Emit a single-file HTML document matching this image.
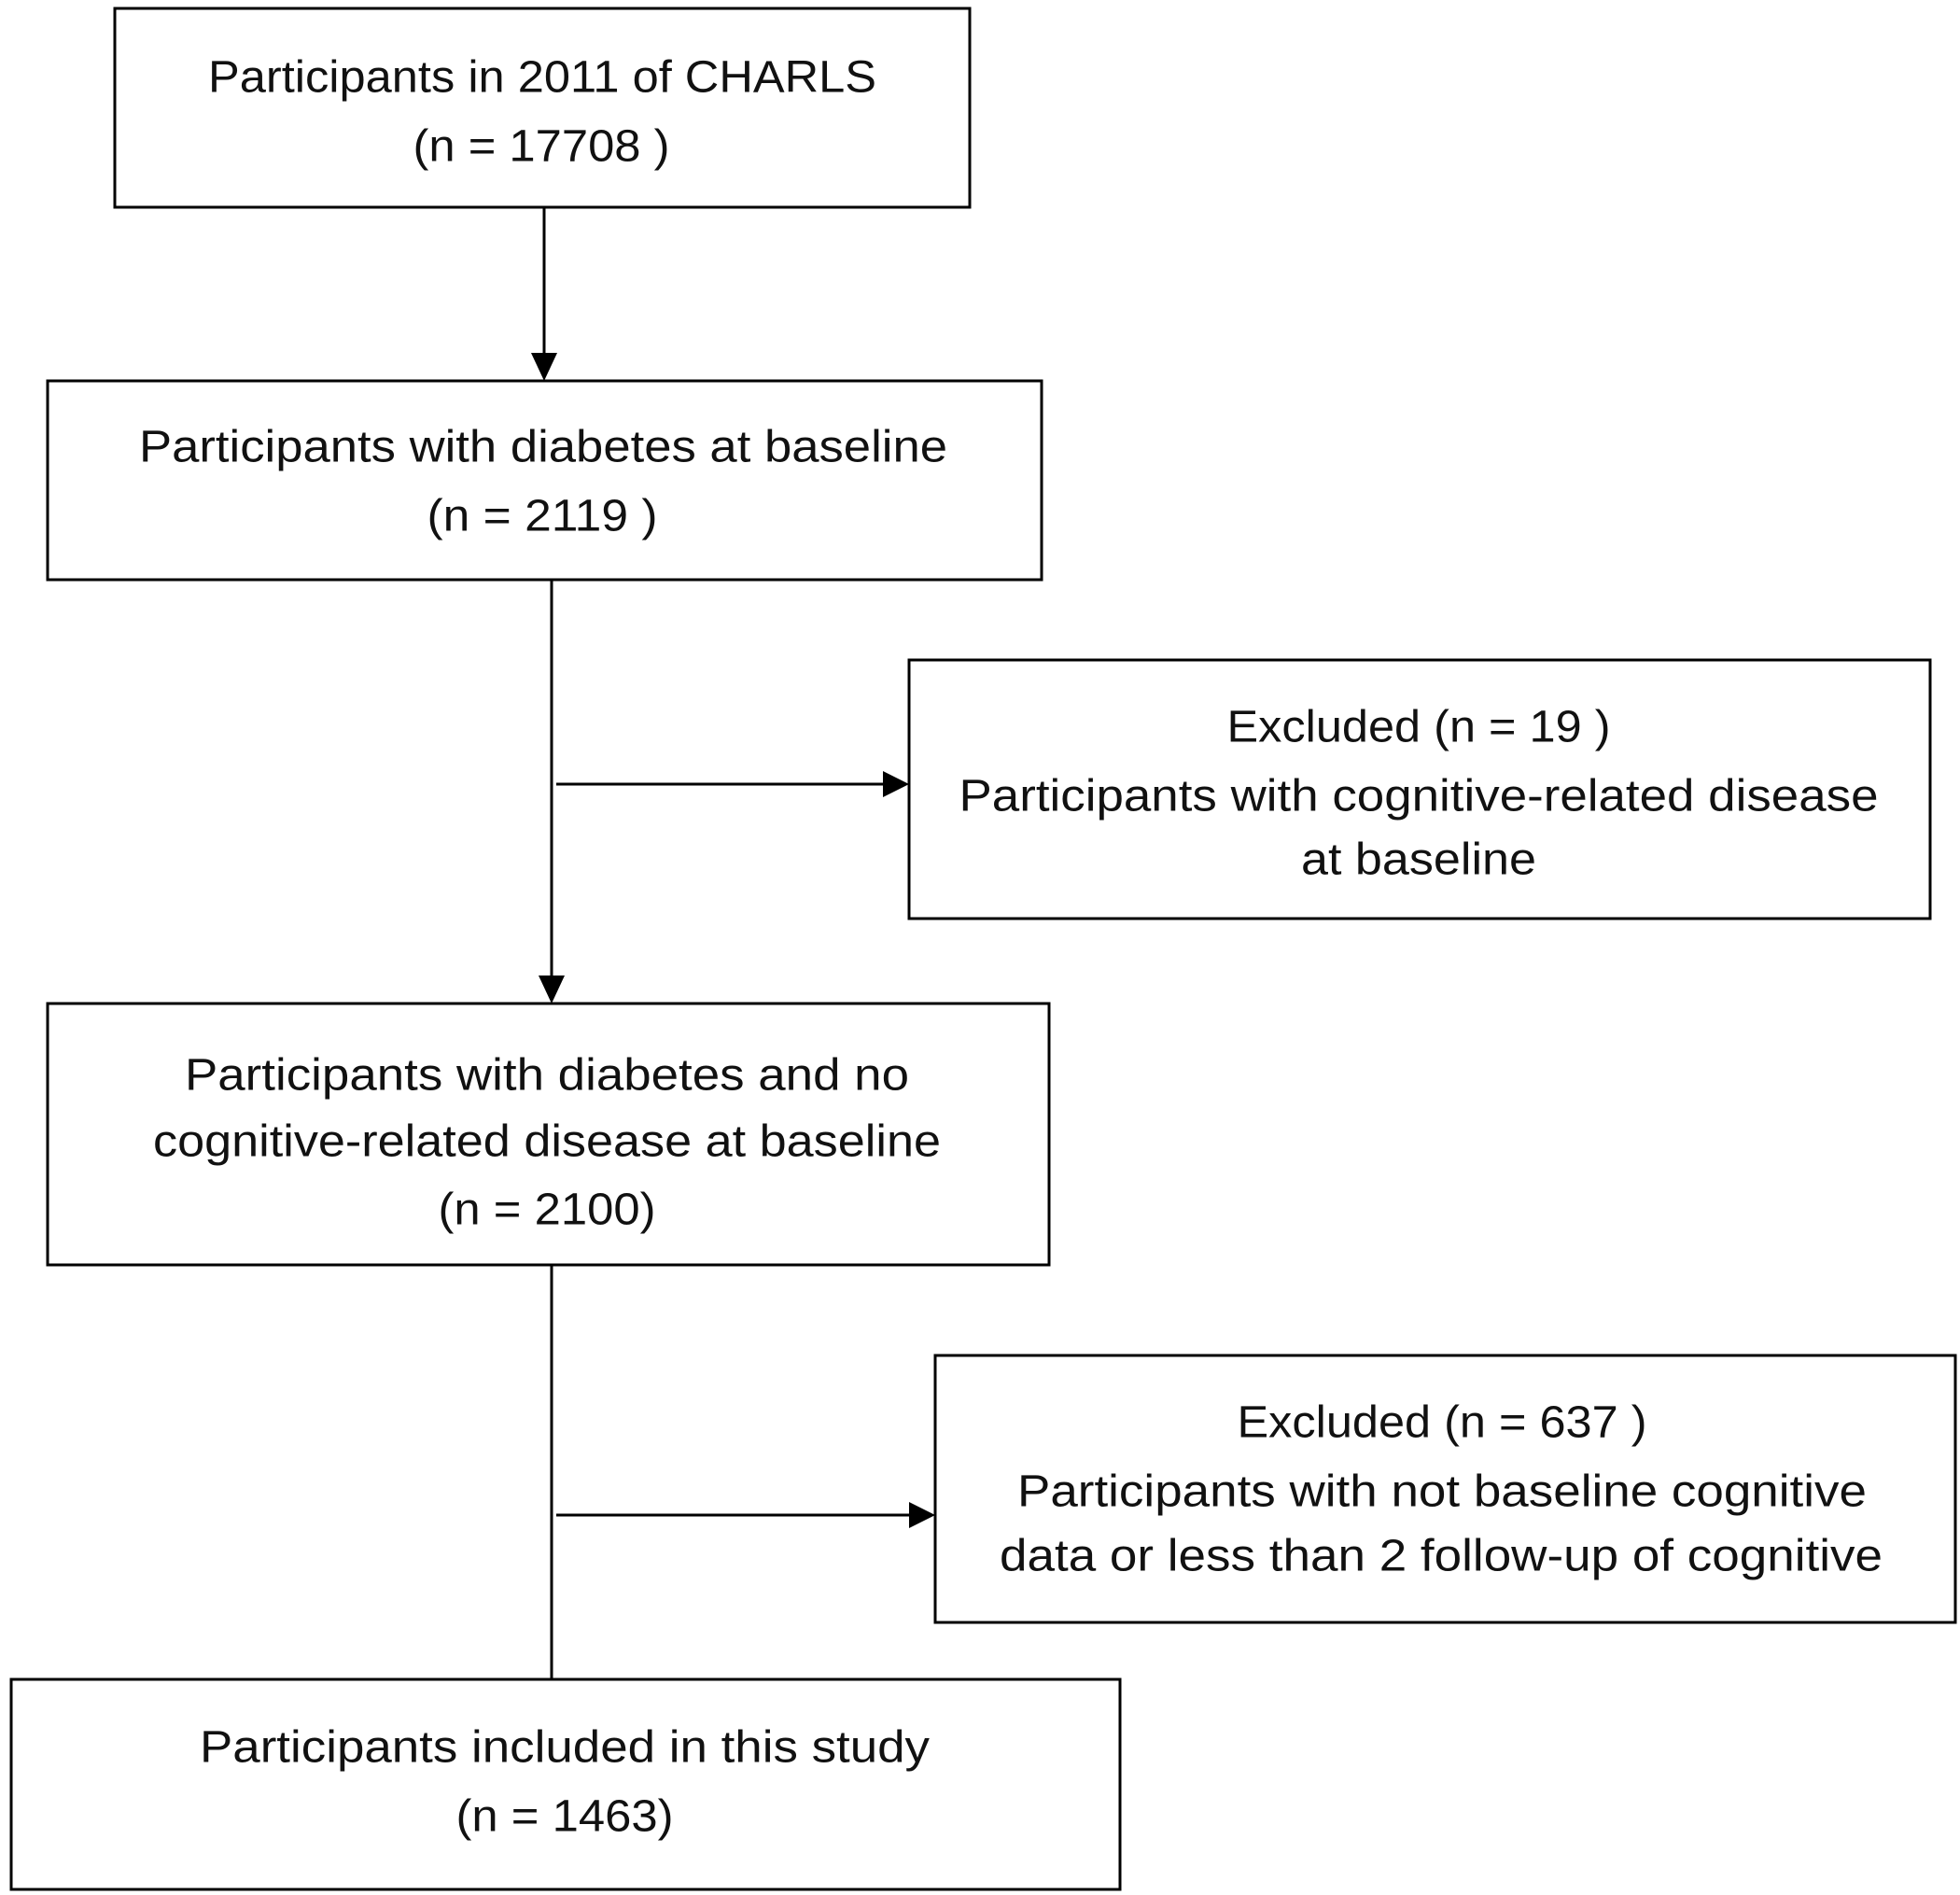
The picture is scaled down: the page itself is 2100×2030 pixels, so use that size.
<!DOCTYPE html>
<html><head><meta charset="utf-8"><style>
html,body{margin:0;padding:0;background:#fff;}
svg{display:block;}
text{font-family:"Liberation Sans",sans-serif;font-size:48px;fill:#111;}
</style></head><body>
<svg width="2100" height="2030" viewBox="0 0 2100 2030">
<g fill="none" stroke="#000" stroke-width="3">
<rect x="123" y="9" width="916" height="213"/>
<rect x="51" y="408" width="1065" height="213"/>
<rect x="974" y="707" width="1094" height="277"/>
<rect x="51" y="1075" width="1073" height="280"/>
<rect x="1002" y="1452" width="1093" height="286"/>
<rect x="12" y="1799" width="1188" height="225"/>
</g>
<g stroke="#000" stroke-width="3" fill="none">
<line x1="583" y1="222" x2="583" y2="378"/>
<path d="M569,378 L597,378 L583,408 z" fill="#000" stroke="none"/>
<line x1="591" y1="621" x2="591" y2="1045"/>
<path d="M577,1045 L605,1045 L591,1075 z" fill="#000" stroke="none"/>
<line x1="596" y1="840" x2="946" y2="840"/>
<path d="M946,826 L946,854 L974,840 z" fill="#000" stroke="none"/>
<line x1="591" y1="1355" x2="591" y2="1799"/>
<line x1="596" y1="1623" x2="974" y2="1623"/>
<path d="M974,1609 L974,1637 L1002,1623 z" fill="#000" stroke="none"/>
</g>
<g text-anchor="middle" dominant-baseline="central">
<text x="581" y="83" textLength="716" lengthAdjust="spacingAndGlyphs">Participants in 2011 of CHARLS</text>
<text x="580" y="157" textLength="275" lengthAdjust="spacingAndGlyphs">(n = 17708 )</text>
<text x="582" y="479" textLength="866" lengthAdjust="spacingAndGlyphs">Participants with diabetes at baseline</text>
<text x="581" y="553" textLength="247" lengthAdjust="spacingAndGlyphs">(n = 2119 )</text>
<text x="1520" y="779" textLength="411" lengthAdjust="spacingAndGlyphs">Excluded (n = 19 )</text>
<text x="1520" y="853" textLength="985" lengthAdjust="spacingAndGlyphs">Participants with cognitive-related disease</text>
<text x="1520" y="921" textLength="252" lengthAdjust="spacingAndGlyphs">at baseline</text>
<text x="586" y="1152" textLength="776" lengthAdjust="spacingAndGlyphs">Participants with diabetes and no</text>
<text x="586" y="1223" textLength="844" lengthAdjust="spacingAndGlyphs">cognitive-related disease at baseline</text>
<text x="586" y="1296" textLength="233" lengthAdjust="spacingAndGlyphs">(n = 2100)</text>
<text x="1545" y="1524" textLength="439" lengthAdjust="spacingAndGlyphs">Excluded (n = 637 )</text>
<text x="1545" y="1598" textLength="910" lengthAdjust="spacingAndGlyphs">Participants with not baseline cognitive</text>
<text x="1544" y="1667" textLength="946" lengthAdjust="spacingAndGlyphs">data or less than 2 follow-up of cognitive</text>
<text x="605" y="1872" textLength="782" lengthAdjust="spacingAndGlyphs">Participants included in this study</text>
<text x="605" y="1946" textLength="233" lengthAdjust="spacingAndGlyphs">(n = 1463)</text>
</g>
</svg>
</body></html>
